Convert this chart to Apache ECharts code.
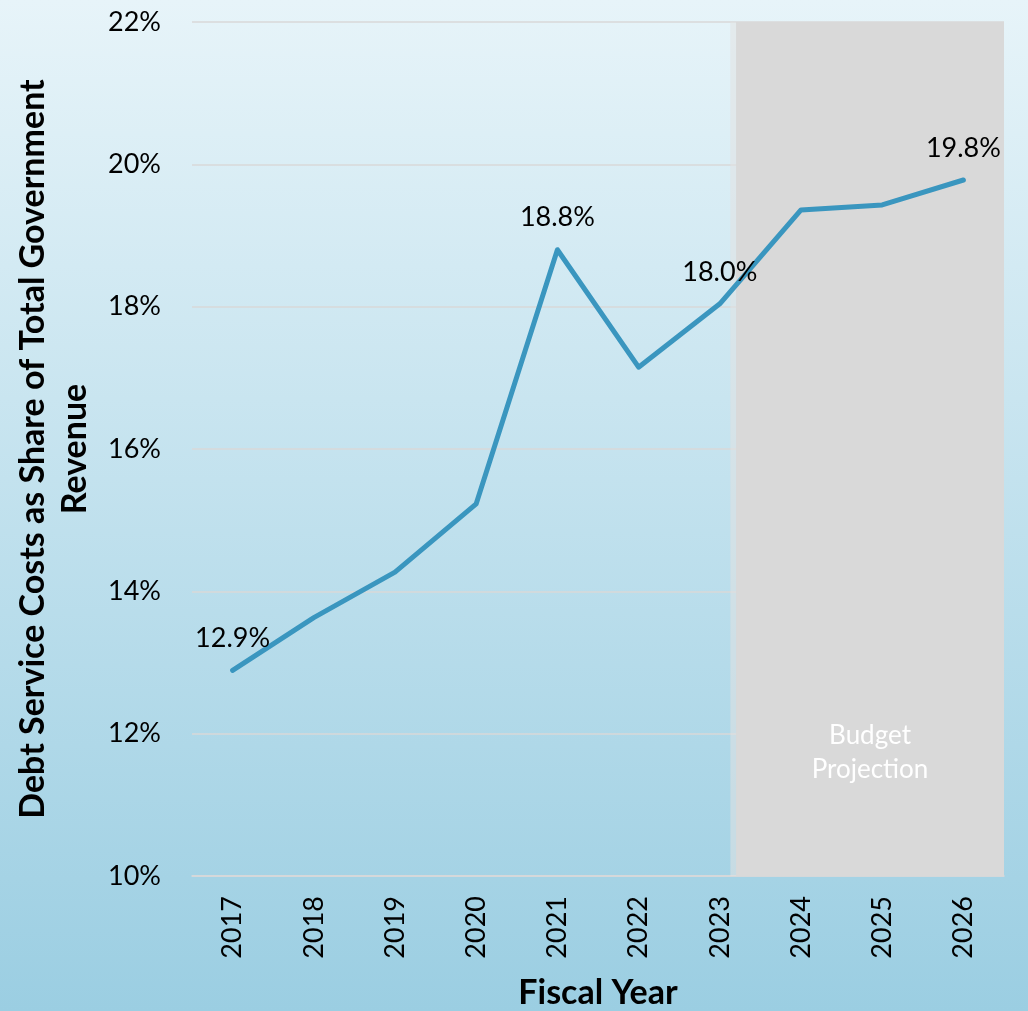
<!DOCTYPE html>
<html>
<head>
<meta charset="utf-8">
<script src="https://cdn.jsdelivr.net/npm/echarts@6/dist/echarts.min.js"></script>
<style>
html,body{margin:0;padding:0;}
#chart{width:1028px;height:1011px;}
</style>
</head>
<body>
<div id="chart"></div>
<script>
const years = ['2017','2018','2019','2020','2021','2022','2023','2024','2025','2026'];
const debtShare = [12.89, 13.63, 14.27, 15.23, 18.80, 17.15, 18.04, 19.36, 19.43, 19.78];
const labeledYears = ['2017','2021','2023','2026'];
const yTicks = {min: 10, max: 22, interval: 2};
const projectionStart = 6.7;   // position on a 0..10 band scale (just after 2023)
const projectionEnd = 10;
const projectionLabel = 'Budget\nProjection';

const FONT = 'Lato';
const LINE_COLOR = '#3a96bf';
const chart = echarts.init(document.getElementById('chart'));

chart.setOption({
  backgroundColor: {
    type: 'linear', x: 0, y: 0, x2: 0, y2: 1,
    colorStops: [{offset: 0, color: '#e7f4f9'}, {offset: 1, color: '#9bcee2'}]
  },
  textStyle: {fontFamily: FONT},
  grid: {left: 192, right: 24, top: 22, bottom: 135, containLabel: false, outerBoundsMode: 'none'},
  xAxis: [{
    type: 'category',
    data: years,
    boundaryGap: true,
    axisLine: {show: true, lineStyle: {color: '#d9d9d9', width: 1.5}},
    axisTick: {show: false},
    axisLabel: {rotate: 90, fontSize: 27, color: '#000', margin: 20, fontFamily: FONT},
    name: 'Fiscal Year',
    nameLocation: 'middle',
    nameGap: 100,
    nameMoveOverlap: false,
    nameTextStyle: {fontSize: 34, fontWeight: 'bold', color: '#000', fontFamily: FONT}
  }, {
    type: 'value',
    min: 0, max: 10,
    show: false
  }],
  yAxis: {
    type: 'value',
    min: yTicks.min, max: yTicks.max, interval: yTicks.interval,
    axisLine: {show: false},
    axisTick: {show: false},
    splitLine: {lineStyle: {color: '#d9d9d9', width: 1.5}},
    axisLabel: {formatter: '{value}%', fontSize: 27, color: '#000', margin: 31, fontFamily: FONT},
    name: 'Debt Service Costs as Share of Total Government\nRevenue',
    nameLocation: 'middle',
    nameRotate: 90,
    nameGap: 96,
    nameMoveOverlap: false,
    nameTextStyle: {fontSize: 34, fontWeight: 'bold', color: '#000', lineHeight: 42, fontFamily: FONT}
  },
  series: [{
    type: 'line',
    xAxisIndex: 1,
    data: [],
    silent: true,
    markArea: {
      silent: true,
      data: [
        [{xAxis: projectionStart - 0.07, yAxis: yTicks.max, itemStyle: {color: 'rgba(225,225,225,0.55)'}},
         {xAxis: projectionStart, yAxis: yTicks.min}],
        [{xAxis: projectionStart, yAxis: yTicks.max, itemStyle: {color: '#d9d9d9'},
          label: {show: true, formatter: projectionLabel, position: 'insideBottom', distance: 89,
                  color: '#fff', fontSize: 26, lineHeight: 34, fontFamily: FONT}},
         {xAxis: projectionEnd, yAxis: yTicks.min}]
      ]
    }
  }, {
    type: 'line',
    data: debtShare,
    symbol: 'circle',
    symbolSize: 1,
    showSymbol: true,
    itemStyle: {color: LINE_COLOR},
    lineStyle: {color: LINE_COLOR, width: 5, cap: 'round', join: 'round'},
    label: {
      show: true,
      position: 'top', distance: 18, fontSize: 27, color: '#000', fontFamily: FONT,
      formatter: p => labeledYears.includes(years[p.dataIndex]) ? p.value.toFixed(1) + '%' : ''
    },
    labelLayout: {hideOverlap: false},
    z: 5
  }]
});
</script>
</body>
</html>
